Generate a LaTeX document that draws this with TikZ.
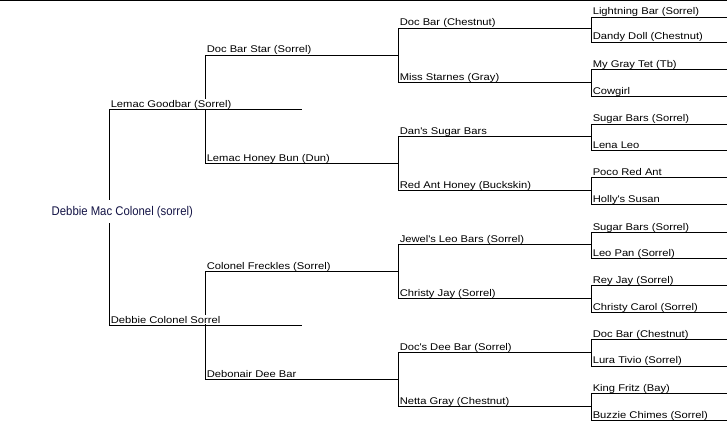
\documentclass[tikz,border=0pt]{standalone}
\usepackage{fontspec}
\newfontfamily\lblfam[FakeStretch=1.15]{Liberation Sans}
\newfontfamily\rootfam[FakeStretch=0.9]{Liberation Sans}
\definecolor{rootblue}{RGB}{20,20,70}
\tikzset{
  ln/.style={line width=0.75pt, draw=black},
  lbl/.style={anchor=base west, inner xsep=0pt, inner ysep=0.5pt, fill=white, text=black,
    font=\lblfam\fontsize{7.3pt}{8pt}\selectfont},
  rootlbl/.style={anchor=base, inner xsep=1pt, inner ysep=4.3pt, fill=white, text=rootblue,
    font=\rootfam\fontsize{9.45pt}{11pt}\selectfont},
}
\newcommand\sq{\textquotesingle}
\begin{document}
\begin{tikzpicture}[x=0.75pt,y=-0.75pt]
\useasboundingbox (0,0) rectangle (727,435);
% top rule
\coordinate (tl) at (0,0.5);
\coordinate (tr) at (727,0.5);
% generation 1 (parents)
\coordinate (s1a) at (109,109.5);   \coordinate (e1a) at (302,109.5);
\coordinate (s1b) at (109,325.5);   \coordinate (e1b) at (302,325.5);
% generation 2
\coordinate (s2a) at (205,55.5);    \coordinate (e2a) at (398,55.5);
\coordinate (s2b) at (205,163.5);   \coordinate (e2b) at (398,163.5);
\coordinate (s2c) at (205,271.5);   \coordinate (e2c) at (398,271.5);
\coordinate (s2d) at (205,379.5);   \coordinate (e2d) at (398,379.5);
% generation 3
\coordinate (s3a) at (398,28.5);    \coordinate (e3a) at (591,28.5);
\coordinate (s3b) at (398,82.5);    \coordinate (e3b) at (591,82.5);
\coordinate (s3c) at (398,136.5);   \coordinate (e3c) at (591,136.5);
\coordinate (s3d) at (398,190.5);   \coordinate (e3d) at (591,190.5);
\coordinate (s3e) at (398,244.5);   \coordinate (e3e) at (591,244.5);
\coordinate (s3f) at (398,298.5);   \coordinate (e3f) at (591,298.5);
\coordinate (s3g) at (398,352.5);   \coordinate (e3g) at (591,352.5);
\coordinate (s3h) at (398,406.5);   \coordinate (e3h) at (591,406.5);
% generation 4
\coordinate (s4a) at (591,17.5);    \coordinate (e4a) at (727,17.5);
\coordinate (s4b) at (591,42.5);    \coordinate (e4b) at (727,42.5);
\coordinate (s4c) at (591,69.5);    \coordinate (e4c) at (727,69.5);
\coordinate (s4d) at (591,96.5);    \coordinate (e4d) at (727,96.5);
\coordinate (s4e) at (591,124);     \coordinate (e4e) at (727,124);
\coordinate (s4f) at (591,150.5);   \coordinate (e4f) at (727,150.5);
\coordinate (s4g) at (591,177.5);   \coordinate (e4g) at (727,177.5);
\coordinate (s4h) at (591,204.5);   \coordinate (e4h) at (727,204.5);
\coordinate (s4i) at (591,232.5);   \coordinate (e4i) at (727,232.5);
\coordinate (s4j) at (591,258.5);   \coordinate (e4j) at (727,258.5);
\coordinate (s4k) at (591,285.5);   \coordinate (e4k) at (727,285.5);
\coordinate (s4l) at (591,312.5);   \coordinate (e4l) at (727,312.5);
\coordinate (s4m) at (591,339.5);   \coordinate (e4m) at (727,339.5);
\coordinate (s4n) at (591,366);     \coordinate (e4n) at (727,366);
\coordinate (s4o) at (591,393.5);   \coordinate (e4o) at (727,393.5);
\coordinate (s4p) at (591,420.5);   \coordinate (e4p) at (727,420.5);

% vertical connectors
\draw[ln] (s1a) -- (s1b);
\draw[ln] (s2a) -- (s2b);
\draw[ln] (s2c) -- (s2d);
\draw[ln] (s3a) -- (s3b);
\draw[ln] (s3c) -- (s3d);
\draw[ln] (s3e) -- (s3f);
\draw[ln] (s3g) -- (s3h);
\draw[ln] (s4a) -- (s4b);
\draw[ln] (s4c) -- (s4d);
\draw[ln] (s4e) -- (s4f);
\draw[ln] (s4g) -- (s4h);
\draw[ln] (s4i) -- (s4j);
\draw[ln] (s4k) -- (s4l);
\draw[ln] (s4m) -- (s4n);
\draw[ln] (s4o) -- (s4p);

% labels
\node[rootlbl] (root) at (122.3,215) {Debbie Mac Colonel (sorrel)};
\node[lbl] (n1a) at ([shift={(1.5,-2.5)}]s1a) {Lemac Goodbar (Sorrel)};
\node[lbl] (n1b) at ([shift={(1.5,-2.5)}]s1b) {Debbie Colonel Sorrel};
\node[lbl] (n2a) at ([shift={(1.5,-2.5)}]s2a) {Doc Bar Star (Sorrel)};
\node[lbl] (n2b) at ([shift={(1.5,-2.5)}]s2b) {Lemac Honey Bun (Dun)};
\node[lbl] (n2c) at ([shift={(1.5,-2.5)}]s2c) {Colonel Freckles (Sorrel)};
\node[lbl] (n2d) at ([shift={(1.5,-2.5)}]s2d) {Debonair Dee Bar};
\node[lbl] (n3a) at ([shift={(1.5,-2.5)}]s3a) {Doc Bar (Chestnut)};
\node[lbl] (n3b) at ([shift={(1.5,-2.5)}]s3b) {Miss Starnes (Gray)};
\node[lbl] (n3c) at ([shift={(1.5,-2.5)}]s3c) {Dan\sq s Sugar Bars};
\node[lbl] (n3d) at ([shift={(1.5,-2.5)}]s3d) {Red Ant Honey (Buckskin)};
\node[lbl] (n3e) at ([shift={(1.5,-2.5)}]s3e) {Jewel\sq s Leo Bars (Sorrel)};
\node[lbl] (n3f) at ([shift={(1.5,-2.5)}]s3f) {Christy Jay (Sorrel)};
\node[lbl] (n3g) at ([shift={(1.5,-2.5)}]s3g) {Doc\sq s Dee Bar (Sorrel)};
\node[lbl] (n3h) at ([shift={(1.5,-2.5)}]s3h) {Netta Gray (Chestnut)};
\node[lbl] (n4a) at ([shift={(1.5,-2.5)}]s4a) {Lightning Bar (Sorrel)};
\node[lbl] (n4b) at ([shift={(1.5,-2.5)}]s4b) {Dandy Doll (Chestnut)};
\node[lbl] (n4c) at ([shift={(1.5,-2.5)}]s4c) {My Gray Tet (Tb)};
\node[lbl] (n4d) at ([shift={(1.5,-2.5)}]s4d) {Cowgirl};
\node[lbl] (n4e) at ([shift={(1.5,-2.5)}]s4e) {Sugar Bars (Sorrel)};
\node[lbl] (n4f) at ([shift={(1.5,-2.5)}]s4f) {Lena Leo};
\node[lbl] (n4g) at ([shift={(1.5,-2.5)}]s4g) {Poco Red Ant};
\node[lbl] (n4h) at ([shift={(1.5,-2.5)}]s4h) {Holly\sq s Susan};
\node[lbl] (n4i) at ([shift={(1.5,-2.5)}]s4i) {Sugar Bars (Sorrel)};
\node[lbl] (n4j) at ([shift={(1.5,-2.5)}]s4j) {Leo Pan (Sorrel)};
\node[lbl] (n4k) at ([shift={(1.5,-2.5)}]s4k) {Rey Jay (Sorrel)};
\node[lbl] (n4l) at ([shift={(1.5,-2.5)}]s4l) {Christy Carol (Sorrel)};
\node[lbl] (n4m) at ([shift={(1.5,-2.5)}]s4m) {Doc Bar (Chestnut)};
\node[lbl] (n4n) at ([shift={(1.5,-2.5)}]s4n) {Lura Tivio (Sorrel)};
\node[lbl] (n4o) at ([shift={(1.5,-2.5)}]s4o) {King Fritz (Bay)};
\node[lbl] (n4p) at ([shift={(1.5,-2.5)}]s4p) {Buzzie Chimes (Sorrel)};

% horizontal lines (drawn over label boxes)
\draw[ln] (tl) -- (tr);
\draw[ln] (s1a) -- (e1a);  \draw[ln] (s1b) -- (e1b);
\draw[ln] (s2a) -- (e2a);  \draw[ln] (s2b) -- (e2b);
\draw[ln] (s2c) -- (e2c);  \draw[ln] (s2d) -- (e2d);
\draw[ln] (s3a) -- (e3a);  \draw[ln] (s3b) -- (e3b);
\draw[ln] (s3c) -- (e3c);  \draw[ln] (s3d) -- (e3d);
\draw[ln] (s3e) -- (e3e);  \draw[ln] (s3f) -- (e3f);
\draw[ln] (s3g) -- (e3g);  \draw[ln] (s3h) -- (e3h);
\draw[ln] (s4a) -- (e4a);  \draw[ln] (s4b) -- (e4b);
\draw[ln] (s4c) -- (e4c);  \draw[ln] (s4d) -- (e4d);
\draw[ln] (s4e) -- (e4e);  \draw[ln] (s4f) -- (e4f);
\draw[ln] (s4g) -- (e4g);  \draw[ln] (s4h) -- (e4h);
\draw[ln] (s4i) -- (e4i);  \draw[ln] (s4j) -- (e4j);
\draw[ln] (s4k) -- (e4k);  \draw[ln] (s4l) -- (e4l);
\draw[ln] (s4m) -- (e4m);  \draw[ln] (s4n) -- (e4n);
\draw[ln] (s4o) -- (e4o);  \draw[ln] (s4p) -- (e4p);
\end{tikzpicture}
\end{document}
